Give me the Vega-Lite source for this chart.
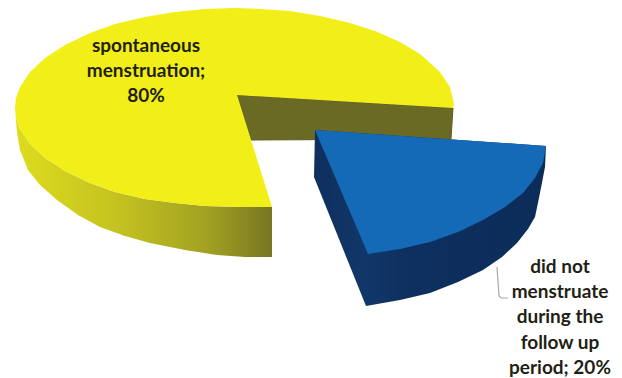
{
  "$schema": "https://vega.github.io/schema/vega-lite/v6.json",
  "width": 622,
  "height": 378,
  "padding": 0,
  "autosize": {"type": "fit", "contains": "padding"},
  "background": "white",
  "view": {"stroke": null},
  "datasets": {
    "outlines": [
      {"part":"backwall","o":1,"x":237,"y":95},{"part":"backwall","o":2,"x":453,"y":108},{"part":"backwall","o":3,"x":451,"y":139},{"part":"backwall","o":4,"x":251,"y":140},{"part":"backwall","o":5,"x":237,"y":95},

      {"part":"yellowside","o":1,"x":15,"y":108},{"part":"yellowside","o":2,"x":16,"y":118},{"part":"yellowside","o":3,"x":20,"y":129},{"part":"yellowside","o":4,"x":30,"y":144},{"part":"yellowside","o":5,"x":45,"y":158},{"part":"yellowside","o":6,"x":65,"y":171},{"part":"yellowside","o":7,"x":90,"y":183},{"part":"yellowside","o":8,"x":115,"y":192},{"part":"yellowside","o":9,"x":145,"y":199},{"part":"yellowside","o":10,"x":175,"y":203},{"part":"yellowside","o":11,"x":205,"y":206},{"part":"yellowside","o":12,"x":240,"y":207},{"part":"yellowside","o":13,"x":272,"y":207},{"part":"yellowside","o":14,"x":272,"y":257},{"part":"yellowside","o":15,"x":245,"y":257},{"part":"yellowside","o":16,"x":217,"y":255},{"part":"yellowside","o":17,"x":185,"y":250},{"part":"yellowside","o":18,"x":150,"y":243},{"part":"yellowside","o":19,"x":125,"y":236},{"part":"yellowside","o":20,"x":100,"y":227},{"part":"yellowside","o":21,"x":78,"y":215},{"part":"yellowside","o":22,"x":57,"y":200},{"part":"yellowside","o":23,"x":40,"y":185},{"part":"yellowside","o":24,"x":28,"y":170},{"part":"yellowside","o":25,"x":20,"y":150},{"part":"yellowside","o":26,"x":17,"y":133},{"part":"yellowside","o":27,"x":15,"y":108},

      {"part":"yellowtop","o":1,"x":237,"y":95},{"part":"yellowtop","o":2,"x":453,"y":108},{"part":"yellowtop","o":3,"x":454,"y":104},{"part":"yellowtop","o":4,"x":450,"y":87},{"part":"yellowtop","o":5,"x":440,"y":72},{"part":"yellowtop","o":6,"x":420,"y":54},{"part":"yellowtop","o":7,"x":400,"y":42},{"part":"yellowtop","o":8,"x":375,"y":31},{"part":"yellowtop","o":9,"x":350,"y":23},{"part":"yellowtop","o":10,"x":320,"y":16},{"part":"yellowtop","o":11,"x":290,"y":11},{"part":"yellowtop","o":12,"x":260,"y":9},{"part":"yellowtop","o":13,"x":235,"y":8},{"part":"yellowtop","o":14,"x":205,"y":9},{"part":"yellowtop","o":15,"x":175,"y":12},{"part":"yellowtop","o":16,"x":145,"y":17},{"part":"yellowtop","o":17,"x":115,"y":24},{"part":"yellowtop","o":18,"x":90,"y":33},{"part":"yellowtop","o":19,"x":65,"y":45},{"part":"yellowtop","o":20,"x":45,"y":58},{"part":"yellowtop","o":21,"x":30,"y":72},{"part":"yellowtop","o":22,"x":20,"y":87},{"part":"yellowtop","o":23,"x":16,"y":98},{"part":"yellowtop","o":24,"x":15,"y":108},{"part":"yellowtop","o":25,"x":16,"y":118},{"part":"yellowtop","o":26,"x":20,"y":129},{"part":"yellowtop","o":27,"x":30,"y":144},{"part":"yellowtop","o":28,"x":45,"y":158},{"part":"yellowtop","o":29,"x":65,"y":171},{"part":"yellowtop","o":30,"x":90,"y":183},{"part":"yellowtop","o":31,"x":115,"y":192},{"part":"yellowtop","o":32,"x":145,"y":199},{"part":"yellowtop","o":33,"x":175,"y":203},{"part":"yellowtop","o":34,"x":205,"y":206},{"part":"yellowtop","o":35,"x":240,"y":207},{"part":"yellowtop","o":36,"x":272,"y":207},{"part":"yellowtop","o":37,"x":237,"y":95},

      {"part":"blueside","o":1,"x":315,"y":130},{"part":"blueside","o":2,"x":314,"y":177},{"part":"blueside","o":3,"x":366,"y":306},{"part":"blueside","o":4,"x":400,"y":300},{"part":"blueside","o":5,"x":430,"y":293},{"part":"blueside","o":6,"x":458,"y":282},{"part":"blueside","o":7,"x":483,"y":270},{"part":"blueside","o":8,"x":502,"y":257},{"part":"blueside","o":9,"x":517,"y":243},{"part":"blueside","o":10,"x":528,"y":229},{"part":"blueside","o":11,"x":535,"y":217},{"part":"blueside","o":12,"x":540,"y":193},{"part":"blueside","o":13,"x":545,"y":167},{"part":"blueside","o":14,"x":546,"y":146},{"part":"blueside","o":15,"x":315,"y":130},

      {"part":"bluetop","o":1,"x":315,"y":130},{"part":"bluetop","o":2,"x":546,"y":146},{"part":"bluetop","o":3,"x":543,"y":163},{"part":"bluetop","o":4,"x":535,"y":178},{"part":"bluetop","o":5,"x":523,"y":193},{"part":"bluetop","o":6,"x":505,"y":207},{"part":"bluetop","o":7,"x":483,"y":220},{"part":"bluetop","o":8,"x":458,"y":232},{"part":"bluetop","o":9,"x":430,"y":242},{"part":"bluetop","o":10,"x":400,"y":249},{"part":"bluetop","o":11,"x":368,"y":254},{"part":"bluetop","o":12,"x":315,"y":130},

      {"part":"leader","o":1,"x":497,"y":267},{"part":"leader","o":2,"x":499,"y":296},{"part":"leader","o":3,"x":501,"y":298},{"part":"leader","o":4,"x":508,"y":298}
    ],
    "labels": [
      {"text":"spontaneous","x":146,"y":46},
      {"text":"menstruation;","x":146,"y":71},
      {"text":"80%","x":146,"y":96},
      {"text":"did not","x":560,"y":267},
      {"text":"menstruate","x":560,"y":292},
      {"text":"during the","x":560,"y":317},
      {"text":"follow up","x":560,"y":343},
      {"text":"period; 20%","x":560,"y":368}
    ]
  },
  "encoding": {
    "x": {"field": "x", "type": "quantitative", "axis": null, "scale": {"domain": [0, 622], "nice": false, "zero": false}},
    "y": {"field": "y", "type": "quantitative", "axis": null, "scale": {"domain": [378, 0], "nice": false, "zero": false}},
    "order": {"field": "o", "type": "quantitative"}
  },
  "layer": [
    {
      "data": {"name": "outlines"},
      "transform": [{"filter": "datum.part === 'backwall'"}],
      "mark": {"type": "line", "fill": "#6b6a24", "stroke": "#5f5e20", "strokeWidth": 1}
    },
    {
      "data": {"name": "outlines"},
      "transform": [{"filter": "datum.part === 'yellowside'"}],
      "mark": {
        "type": "line", "strokeWidth": 0,
        "fill": {"gradient": "linear", "x1": 0, "y1": 0, "x2": 1, "y2": 0, "stops": [
          {"offset": 0, "color": "#dedc1e"},
          {"offset": 0.4, "color": "#c4c220"},
          {"offset": 0.75, "color": "#a2a122"},
          {"offset": 1, "color": "#777622"}
        ]}
      }
    },
    {
      "data": {"name": "outlines"},
      "transform": [{"filter": "datum.part === 'yellowtop'"}],
      "mark": {"type": "line", "fill": "#f2ee18", "strokeWidth": 0}
    },
    {
      "data": {"name": "outlines"},
      "transform": [{"filter": "datum.part === 'blueside'"}],
      "mark": {
        "type": "line", "strokeWidth": 0,
        "fill": {"gradient": "linear", "x1": 0, "y1": 0, "x2": 1, "y2": 0, "stops": [
          {"offset": 0, "color": "#0e2f5f"},
          {"offset": 0.22, "color": "#113768"},
          {"offset": 0.4, "color": "#0e3060"},
          {"offset": 1, "color": "#0c2c58"}
        ]}
      }
    },
    {
      "data": {"name": "outlines"},
      "transform": [{"filter": "datum.part === 'bluetop'"}],
      "mark": {"type": "line", "fill": "#146ab6", "strokeWidth": 0}
    },
    {
      "data": {"name": "outlines"},
      "transform": [{"filter": "datum.part === 'leader'"}],
      "mark": {"type": "line", "stroke": "#a9a9a9", "strokeWidth": 1.2}
    },
    {
      "data": {"name": "labels"},
      "mark": {"type": "text", "font": "Lato", "fontWeight": "bold", "fontSize": 19, "align": "center", "baseline": "middle", "color": "#1f1f14"},
      "encoding": {"text": {"field": "text", "type": "nominal"}, "order": {"value": null}}
    }
  ]
}
